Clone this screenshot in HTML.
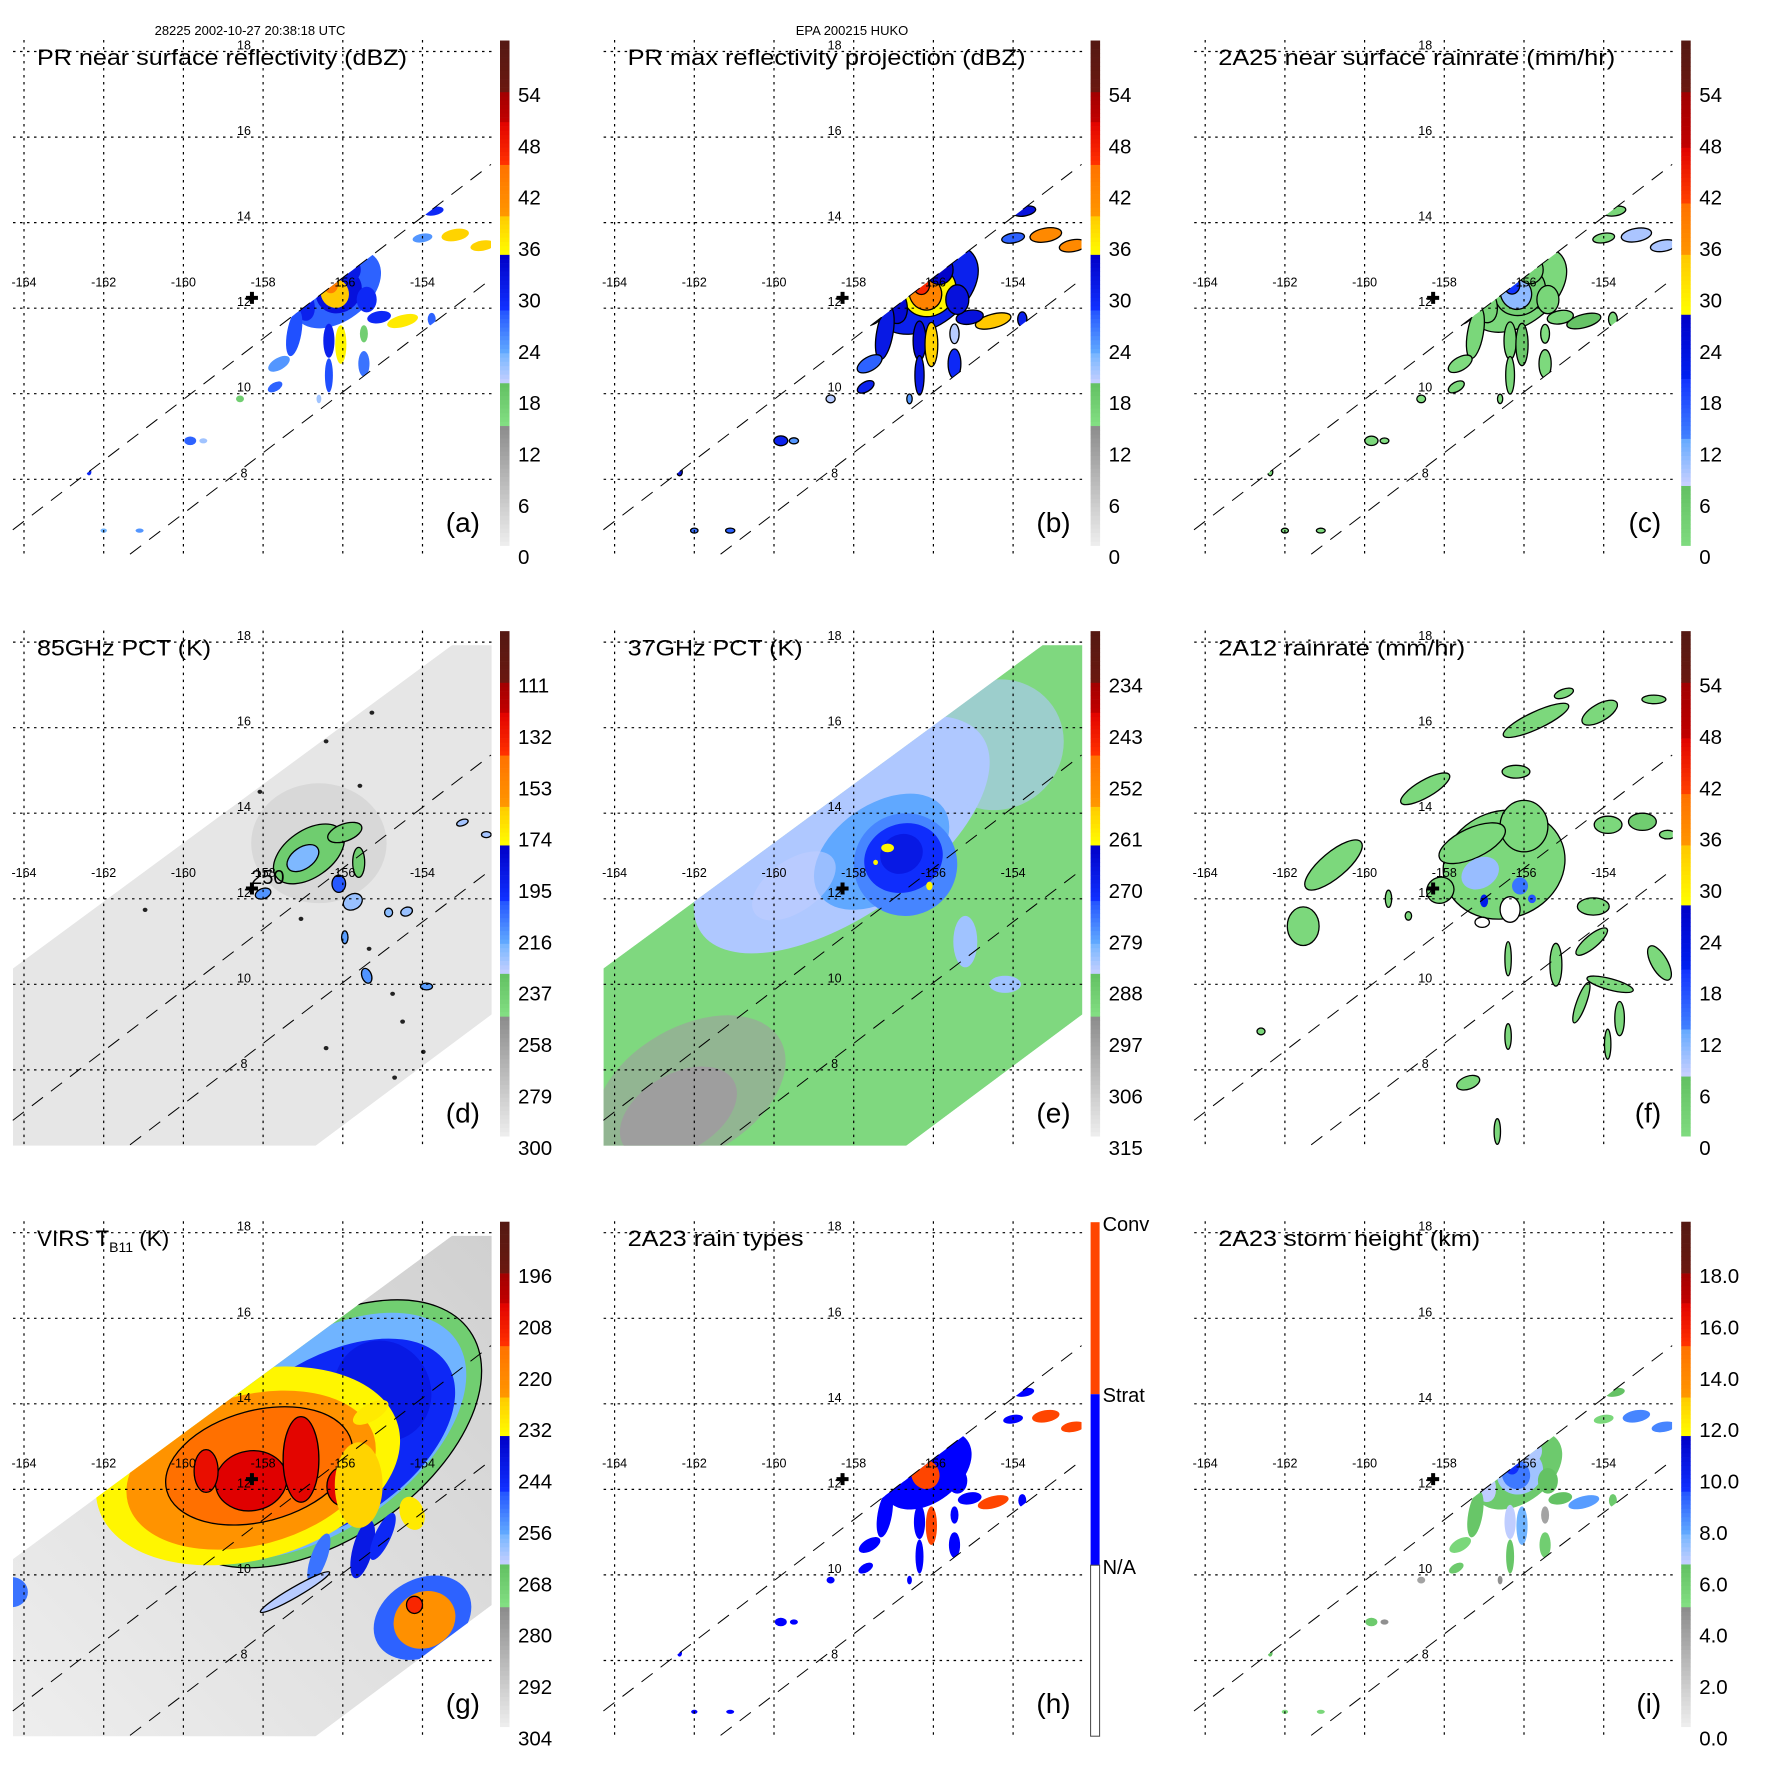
<!DOCTYPE html>
<html><head><meta charset="utf-8"><title>TRMM multi-panel</title>
<style>
html,body{margin:0;padding:0;background:#fff;}
svg{display:block;font-family:"Liberation Sans",Arial,sans-serif;}
</style></head>
<body>
<svg id="fig" width="1771" height="1771" viewBox="0 0 1771 1771" xmlns="http://www.w3.org/2000/svg">
<rect x="0" y="0" width="1771" height="1771" fill="#fff"/>
<text x="250" y="35" font-size="13" text-anchor="middle">28225 2002-10-27 20:38:18 UTC</text>
<text x="852" y="35" font-size="13" text-anchor="middle">EPA 200215 HUKO</text>
</svg>
<script>
// ---------- data arrays ----------
const LON_TICKS = [-164, -162, -160, -158, -156, -154];
const LAT_TICKS = [18, 16, 14, 12, 10, 8];
const STORM_CENTER = [-158.28, 12.24];
const PR_UPPER = [[-164.28, 6.82], [-152.28, 15.36]];
const PR_LOWER = [[-161.34, 6.25], [-152.28, 12.68]];
const TMI_SWATH = [[-164.28,10.37],[-153.26,17.93],[-152.2,17.93],[-152.2,9.34],[-156.72,6.2],[-164.28,6.2]];

const LABELS_DBZ = ["54","48","42","36","30","24","18","12","6","0"];
const LABELS_85 = ["111","132","153","174","195","216","237","258","279","300"];
const LABELS_37 = ["234","243","252","261","270","279","288","297","306","315"];
const LABELS_VIRS = ["196","208","220","232","244","256","268","280","292","304"];
const LABELS_HGT = ["18.0","16.0","14.0","12.0","10.0","8.0","6.0","4.0","2.0","0.0"];
const LABELS_TYPE = ["Conv","Strat","N/A"];

// PR cells: lon, lat, rx(deg), ry(deg), rot, dBZ
const PR_LON = [-156.15,-156.1,-156.2,-156.3,-157.03,-157.22,-156.35,-156.05,-156.35,-155.47,-154.5,-155.09,-155.4,-153.72,-153.18,-152.5,-154.0,-153.77,-157.6,-157.7,-159.83,-162.37,-161.1,-158.58,-156.6,-155.47,-157.6,-159.5,-162.0,-155.85];
const PR_LAT = [12.45,12.4,12.35,12.55,12.14,11.42,11.24,11.15,10.43,10.7,11.7,11.79,12.2,14.27,13.71,13.46,13.64,11.74,10.7,10.16,8.9,8.17,6.8,9.88,9.88,11.4,11.9,8.9,6.8,12.9];
const PR_RX = [1.25,0.6,0.35,0.18,0.3,0.18,0.14,0.14,0.1,0.14,0.4,0.3,0.25,0.25,0.35,0.3,0.25,0.1,0.3,0.2,0.15,0.06,0.1,0.1,0.06,0.1,0.3,0.1,0.08,0.3];
const PR_RY = [0.75,0.5,0.35,0.2,0.45,0.55,0.4,0.45,0.4,0.3,0.14,0.14,0.3,0.1,0.14,0.12,0.1,0.15,0.14,0.1,0.1,0.08,0.05,0.08,0.1,0.2,0.25,0.06,0.05,0.3];
const PR_ROT = [-37,-35,-30,0,-20,10,0,0,0,0,-15,-10,0,-10,-10,-10,-10,0,-30,-30,0,0,0,0,0,0,-30,0,0,0];
const PR_DBZ = [28,33,40,44,31,29,31,36,29,27,37,30,30,30,39,39,25,28,25,28,28,30,25,18,22,18,24,22,24,32];

// 85 GHz PCT features: lon, lat, rx, ry, rot, K
const D_LON = [-156.85,-157.0,-155.95,-155.6,-158.0,-156.1,-155.75,-154.4,-154.85,-155.4,-153.9,-153.0,-152.4,-155.95];
const D_LAT = [13.05,12.95,13.55,12.85,12.12,12.35,11.93,11.7,11.68,10.2,9.95,13.78,13.5,11.1];
const D_RX = [1.0,0.45,0.45,0.15,0.2,0.17,0.25,0.15,0.1,0.12,0.15,0.15,0.12,0.08];
const D_RY = [0.55,0.25,0.2,0.35,0.12,0.2,0.18,0.1,0.1,0.18,0.08,0.07,0.07,0.15];
const D_ROT = [-35,-35,-20,0,-20,0,-30,-20,0,-20,0,-20,0,0];
const D_K = [236,218,236,236,212,200,222,222,220,212,214,224,224,214];
const D_DOT_LON = [-155.27,-156.42,-158.63,-158.4,-158.08,-155.57,-160.96,-156.42,-154.7,-155.34,-154.75,-154.5,-153.98,-157.05];
const D_DOT_LAT = [16.35,15.68,14.5,14.6,14.5,14.64,11.74,8.51,7.82,10.83,9.78,9.13,8.42,11.53];

// 37 GHz PCT features
const E_LON = [-158.3,-154.4,-157.3,-156.7,-156.75,-156.8,-157.15,-156.1,-157.45,-155.2,-154.2,-162.1,-162.4,-159.5];
const E_LAT = [13.5,15.6,13.1,12.8,12.95,13.05,13.19,12.3,12.85,11.0,10.0,7.5,7.0,12.3];
const E_RX = [4.3,1.7,1.9,1.3,1.0,0.55,0.16,0.08,0.06,0.3,0.4,2.6,1.6,1.2];
const E_RY = [1.9,1.5,1.1,1.2,0.8,0.45,0.1,0.1,0.06,0.6,0.2,1.5,0.9,0.6];
const E_ROT = [-35,-35,-35,-20,-20,-30,0,0,0,0,0,-30,-30,-35];
const E_K = [283,283,279,276,271,267,261,261,261,282,282,296,296,284];

// 2A12 rain features (mm/hr); null = rain-free hole
const F_LON = [-156.5,-156.0,-157.3,-158.1,-157.1,-156.1,-157.0,-155.8,-156.35,-157.05,-155.7,-154.1,-152.74,-155.0,-156.2,-158.48,-160.78,-161.54,-153.89,-153.03,-152.4,-154.26,-154.3,-155.2,-154.56,-153.84,-153.6,-152.6,-156.4,-156.4,-153.9,-157.4,-156.67,-162.6,-159.4,-158.9];
const F_LAT = [12.8,13.7,13.3,12.2,12.6,12.3,11.95,12.0,11.75,11.45,16.17,16.35,16.66,16.8,14.97,14.57,12.79,11.36,13.73,13.8,13.5,11.82,11.0,10.46,9.57,10.0,9.2,10.5,10.6,8.78,8.6,7.7,6.56,8.9,12.0,11.6];
const F_RX = [1.55,0.6,0.9,0.35,0.5,0.2,0.1,0.1,0.25,0.18,0.9,0.5,0.3,0.25,0.35,0.7,0.9,0.4,0.35,0.35,0.2,0.4,0.5,0.15,0.12,0.6,0.12,0.2,0.08,0.08,0.08,0.3,0.08,0.1,0.08,0.08];
const F_RY = [1.25,0.6,0.35,0.3,0.35,0.2,0.15,0.1,0.3,0.12,0.2,0.2,0.1,0.1,0.15,0.2,0.3,0.45,0.2,0.2,0.1,0.2,0.15,0.5,0.5,0.13,0.4,0.45,0.4,0.3,0.35,0.15,0.3,0.08,0.2,0.1];
const F_ROT = [-20,0,-25,-30,-30,0,0,0,0,0,-25,-30,0,-20,0,-30,-40,0,0,0,0,0,-40,0,20,15,0,-30,0,0,0,-20,0,0,0,0];
const F_RAIN = [2,2,2,2,11,15,22,18,null,null,2,2,2,2,2,2,2,2,2,5,2,2,2,2,2,2,2,2,2,2,2,2,2,2,2,2];

// VIRS Tb11 features (K)
const G_LON = [-156.5,-156.6,-156.4,-155.0,-158.38,-158.3,-158.1,-158.3,-157.05,-156.0,-159.43,-155.3,-154.0,-153.95,-154.2,-155.5,-156.6,-155.0,-154.26,-164.3,-157.2,-155.6];
const G_LAT = [13.3,13.25,13.1,14.3,12.55,12.45,12.55,12.2,12.7,12.07,12.43,13.8,9.0,8.95,9.3,10.6,10.4,10.9,11.44,9.6,9.6,12.1];
const G_RX = [4.5,4.2,3.6,1.2,3.9,3.2,2.4,0.9,0.45,0.4,0.3,0.5,1.3,0.8,0.2,0.25,0.2,0.2,0.3,0.4,1.0,0.6];
const G_RY = [2.45,2.2,1.9,1.2,2.2,1.75,1.3,0.7,1.0,0.45,0.5,0.2,0.9,0.65,0.2,0.7,0.6,0.6,0.4,0.35,0.12,1.0];
const G_ROT = [-35,-35,-33,-30,-15,-15,-15,-10,0,0,0,-30,-30,-30,0,15,20,25,-20,0,-30,0];
const G_K = [268,256,244,240,232,223,212,202,203,203,205,230,248,222,210,240,250,244,230,250,262,226];

// ---------- helpers ----------
const NS = "http://www.w3.org/2000/svg";
const svg = document.getElementById("fig");
const STEP = 590.6;
function X(lon){ return 24 + (lon + 164) * 39.85; }
function Y(lat){ return 479.3 - (lat - 8) * 42.78; }
function mk(tag, attrs, parent){
  const e = document.createElementNS(NS, tag);
  for (const k in attrs) e.setAttribute(k, attrs[k]);
  (parent || svg).appendChild(e);
  return e;
}
function hex(h){ return [parseInt(h.substr(1,2),16),parseInt(h.substr(3,2),16),parseInt(h.substr(5,2),16)]; }
function mix(a,b,t){ const A=hex(a),B=hex(b); return "rgb("+A.map((v,i)=>Math.round(v+(B[i]-v)*t)).join(",")+")"; }
const PAL_STD = [[0,15.2,"#f8f8f8","#8c8c8c"],[15.2,20.3,"#84e084","#62c062"],[20.3,24,"#c8d0ff","#70b4ff"],[24,29,"#60a8ff","#2050ff"],[29,35.2,"#1030ff","#0000c8"],[35.2,40,"#ffff00","#ffc800"],[40,46,"#ff9600","#ff7000"],[46,51,"#ff3000","#e00000"],[51,54.5,"#c00000","#a00000"],[54.5,62,"#6a1810","#4e1a14"]];
const PAL_RAIN = [[0,8.4,"#84e084","#62c062"],[8.4,14,"#c8d0ff","#60a8ff"],[14,21,"#4080ff","#1030ff"],[21,28.3,"#0020f0","#0000c8"],[28.3,35.2,"#ffff00","#ffc800"],[35.2,41.4,"#ff9600","#ff7000"],[41.4,48,"#ff4000","#e00000"],[48,54.3,"#c00000","#a00000"],[54.3,62,"#6a1810","#4e1a14"]];
function colorAt(u, pal){
  if (u < 0) u = 0; if (u > 61.9) u = 61.9;
  for (const s of pal) if (u >= s[0] && u <= s[1]) return mix(s[2], s[3], (u - s[0]) / (s[1] - s[0]));
  return "#fff";
}
function cbY(u){ return 556.7 - u * 8.56; }

function rainFromDbz(d){ return Math.pow(Math.pow(10, d/10)/200, 1/1.6); }

const PANELS = [
 {key:"a", title:"PR near surface reflectivity (dBZ)", tl:370, labels:LABELS_DBZ, pal:PAL_STD, kind:"pr", toU:v=>v, conv:d=>d, outline:false, scale:1},
 {key:"b", title:"PR max reflectivity projection (dBZ)", tl:398, labels:LABELS_DBZ, pal:PAL_STD, kind:"pr", toU:v=>v, conv:d=>d+3, outline:true, scale:1.15},
 {key:"c", title:"2A25 near surface rainrate (mm/hr)", tl:397, labels:LABELS_DBZ, pal:PAL_RAIN, kind:"pr", toU:v=>v, conv:rainFromDbz, outline:true, scale:1.1},
 {key:"d", title:"85GHz PCT (K)", tl:174, labels:LABELS_85, pal:PAL_STD, kind:"d", toU:v=>(300-v)*0.2857},
 {key:"e", title:"37GHz PCT (K)", tl:175, labels:LABELS_37, pal:PAL_STD, kind:"e", toU:v=>(315-v)*0.6667},
 {key:"f", title:"2A12 rainrate (mm/hr)", tl:247, labels:LABELS_DBZ, pal:PAL_RAIN, kind:"f", toU:v=>v},
 {key:"g", title:"VIRS T", tl:0, labels:LABELS_VIRS, pal:PAL_STD, kind:"g", toU:v=>(304-v)*0.5},
 {key:"h", title:"2A23 rain types", tl:176, labels:LABELS_TYPE, pal:null, kind:"h"},
 {key:"i", title:"2A23 storm height (km)", tl:262, labels:LABELS_HGT, pal:PAL_STD, kind:"pr", toU:v=>v*3, conv:d=>d/4.5, outline:false, scale:1}
];

const defs = mk("defs", {});
function ellipse(g, lon, lat, rx, ry, rot, fill, stroke, name, op){
  const cx = X(lon), cy = Y(lat);
  const e = mk("ellipse", {cx:cx.toFixed(1), cy:cy.toFixed(1), rx:(rx*39.85).toFixed(1), ry:(ry*42.78).toFixed(1),
    transform:"rotate("+rot+" "+cx.toFixed(1)+" "+cy.toFixed(1)+")", fill:fill}, g);
  if (stroke) { e.setAttribute("stroke", "#000"); e.setAttribute("stroke-width", "1.3"); }
  if (op) e.setAttribute("opacity", op);
  
  
  return e;
}
function polyPts(arr){ return arr.map(p => X(p[0]).toFixed(1)+","+Y(p[1]).toFixed(1)).join(" "); }

PANELS.forEach((P, idx) => {
  const col = idx % 3, row = Math.floor(idx / 3);
  const g = mk("g", {transform:"translate("+(col*STEP).toFixed(1)+","+(row*STEP).toFixed(1)+")"});
  
  

  const cid = "map" + P.key;
  const cp = mk("clipPath", {id:cid}, defs);
  mk("rect", {x:13, y:40, width:478.6, height:515}, cp);
  const pid = "pr" + P.key;
  const cp2 = mk("clipPath", {id:pid}, defs);
  mk("polygon", {points: polyPts([PR_UPPER[0], PR_UPPER[1], [PR_LOWER[1][0], PR_LOWER[1][1]], [-164.28, 4.16]])}, cp2);
  const tid = "tmi" + P.key;
  const cp3 = mk("clipPath", {id:tid}, defs);
  mk("polygon", {points: polyPts(TMI_SWATH)}, cp3);

  const map = mk("g", {"clip-path":"url(#"+cid+")"}, g);
  
  

  if (P.kind === "pr" || P.kind === "h") {
    const dg = mk("g", {"clip-path":"url(#"+pid+")"}, map);
    
    
    for (let i = 0; i < PR_LON.length; i++) {
      let fill;
      const sc = P.scale || 1;
      if (P.kind === "h") fill = PR_DBZ[i] >= 36 ? "#ff4500" : "#0000ff";
      else fill = colorAt(P.toU(P.conv(PR_DBZ[i])), P.pal);
      ellipse(dg, PR_LON[i], PR_LAT[i], PR_RX[i]*sc, PR_RY[i]*sc, PR_ROT[i], fill, P.outline, "rain-cell");
    }
  }
  if (P.kind === "d") {
    const dg = mk("g", {"clip-path":"url(#"+tid+")"}, map);
    
    
    const bg = mk("polygon", {points: polyPts(TMI_SWATH), fill:"#e6e6e6"}, dg);
    
    
    ellipse(dg, -156.6, 13.3, 1.7, 1.4, 0, colorAt(P.toU(280), P.pal), false, "cold-smudge", "0.6");
    for (let i = 0; i < D_LON.length; i++)
      ellipse(dg, D_LON[i], D_LAT[i], D_RX[i], D_RY[i], D_ROT[i], colorAt(P.toU(D_K[i]), P.pal), true, "pct-cell");
    for (let i = 0; i < D_DOT_LON.length; i++)
      ellipse(dg, D_DOT_LON[i], D_DOT_LAT[i], 0.06, 0.05, 0, "#222", false, "dark-dot");
    const t = mk("text", {x:X(-158.3).toFixed(1), y:(Y(12.35)).toFixed(1), "font-size":"20", fill:"#000"}, dg);
    t.textContent = "250";
    
    
  }
  if (P.kind === "e") {
    const dg = mk("g", {"clip-path":"url(#"+tid+")"}, map);
    
    
    const bg = mk("polygon", {points: polyPts(TMI_SWATH), fill:"#7fd87f"}, dg);
    
    
    for (let i = 0; i < E_LON.length; i++) {
      const op = (i === 1 || i === 11 || i === 13) ? "0.6" : null;
      ellipse(dg, E_LON[i], E_LAT[i], E_RX[i], E_RY[i], E_ROT[i], colorAt(P.toU(E_K[i]), P.pal), false, "pct-cell", op);
    }
  }
  if (P.kind === "f") {
    const dg = mk("g", {}, map);
    
    
    for (let i = 0; i < F_LON.length; i++) {
      const v = F_RAIN[i];
      const fill = v === null ? "#fff" : colorAt(P.toU(v), P.pal);
      const stroke = (v === null || v <= 8);
      ellipse(dg, F_LON[i], F_LAT[i], F_RX[i], F_RY[i], F_ROT[i], fill, stroke, "rain-cell");
    }
  }
  if (P.kind === "g") {
    const gid = "ggrad";
    const lg = mk("linearGradient", {id:gid, x1:"0", y1:"1", x2:"1", y2:"0"}, defs);
    mk("stop", {offset:"0", "stop-color":"#eeeeee"}, lg);
    mk("stop", {offset:"1", "stop-color":"#d0d0d0"}, lg);
    const dg = mk("g", {"clip-path":"url(#"+tid+")"}, map);
    
    
    const bg = mk("polygon", {points: polyPts(TMI_SWATH), fill:"url(#"+gid+")"}, dg);
    
    
    for (let i = 0; i < G_LON.length; i++)
      ellipse(dg, G_LON[i], G_LAT[i], G_RX[i], G_RY[i], G_ROT[i], colorAt(P.toU(G_K[i]), P.pal), G_K[i] <= 212 || G_K[i] >= 262, "cloud-cell");
  }

  LON_TICKS.forEach(lon => {
    const l = mk("line", {x1:X(lon).toFixed(1), x2:X(lon).toFixed(1), y1:40, y2:555, stroke:"#000", "stroke-width":"1.2", "stroke-dasharray":"2.5,4.5"}, g);
    
    
    const t = mk("text", {x:X(lon).toFixed(1), y:(Y(12.6)+4).toFixed(1), "font-size":"12.5", "text-anchor":"middle"}, g);
    t.textContent = String(lon);
    
    
  });
  LAT_TICKS.forEach(lat => {
    const l = mk("line", {x1:13, x2:491.6, y1:Y(lat).toFixed(1), y2:Y(lat).toFixed(1), stroke:"#000", "stroke-width":"1.2", "stroke-dasharray":"2.5,4.5"}, g);
    
    
    const t = mk("text", {x:244, y:(Y(lat)-2).toFixed(1), "font-size":"12.5", "text-anchor":"middle"}, g);
    t.textContent = String(lat);
    
    
  });
  [PR_UPPER, PR_LOWER].forEach(seg => {
    const l = mk("line", {x1:X(seg[0][0]).toFixed(1), y1:Y(seg[0][1]).toFixed(1), x2:X(seg[1][0]).toFixed(1), y2:Y(seg[1][1]).toFixed(1),
      stroke:"#000", "stroke-width":"1", "stroke-dasharray":"14,10"}, g);
    
    
  });
  const cx = X(STORM_CENTER[0]), cy = Y(STORM_CENTER[1]);
  const cross = mk("path", {d:"M"+(cx-6)+" "+(cy-2)+"h4v-4h4v4h4v4h-4v4h-4v-4h-4z", fill:"#000"}, g);
  
  

  const tx = mk("text", {x:37, y:65, "font-size":"22.5"}, g);
  
  
  if (P.kind === "g") {
    tx.textContent = "VIRS T";
    const sub = mk("tspan", {"font-size":"14", dy:"6"}, tx); sub.textContent = "B11";
    const rest = mk("tspan", {dy:"-6"}, tx); rest.textContent = " (K)";
  } else {
    tx.textContent = P.title;
    tx.setAttribute("textLength", P.tl);
    tx.setAttribute("lengthAdjust", "spacingAndGlyphs");
  }
  const letter = mk("text", {x:480, y:532, "font-size":"28", "text-anchor":"end"}, g);
  letter.textContent = "(" + P.key + ")";
  
  

  const cb = mk("g", {}, g);
  
  
  if (P.kind === "h") {
    const parts = [["#ff4500",41,213],["#0000ff",213,384],["#ffffff",384,555]];
    parts.forEach(p => {
      const r = mk("rect", {x:500, y:p[1], width:9, height:p[2]-p[1], fill:p[0]}, cb);
      
      
    });
    const fr = mk("rect", {x:500, y:384, width:9, height:171, fill:"none", stroke:"#444", "stroke-width":"1"}, cb);
    
    
    [49.6, 221, 393].forEach((yy, k) => {
      const t = mk("text", {x:512, y:yy, "font-size":"20"}, cb);
      t.textContent = P.labels[k];
      
      
    });
  } else {
    for (let u = 1.3; u < 60.3; u += 0.5) {
      const r = mk("rect", {x:500, y:cbY(u+0.5).toFixed(2), width:9.5, height:"4.6", fill:colorAt(u+0.25, P.pal)}, cb);
      
      
    }
    P.labels.forEach((lab, k) => {
      const u = 54 - 6*k;
      const t = mk("text", {x:518, y:(cbY(u)+7.5).toFixed(1), "font-size":"20.5"}, cb);
      t.textContent = lab;
      
      
    });
  }
});
</script>
</body></html>
